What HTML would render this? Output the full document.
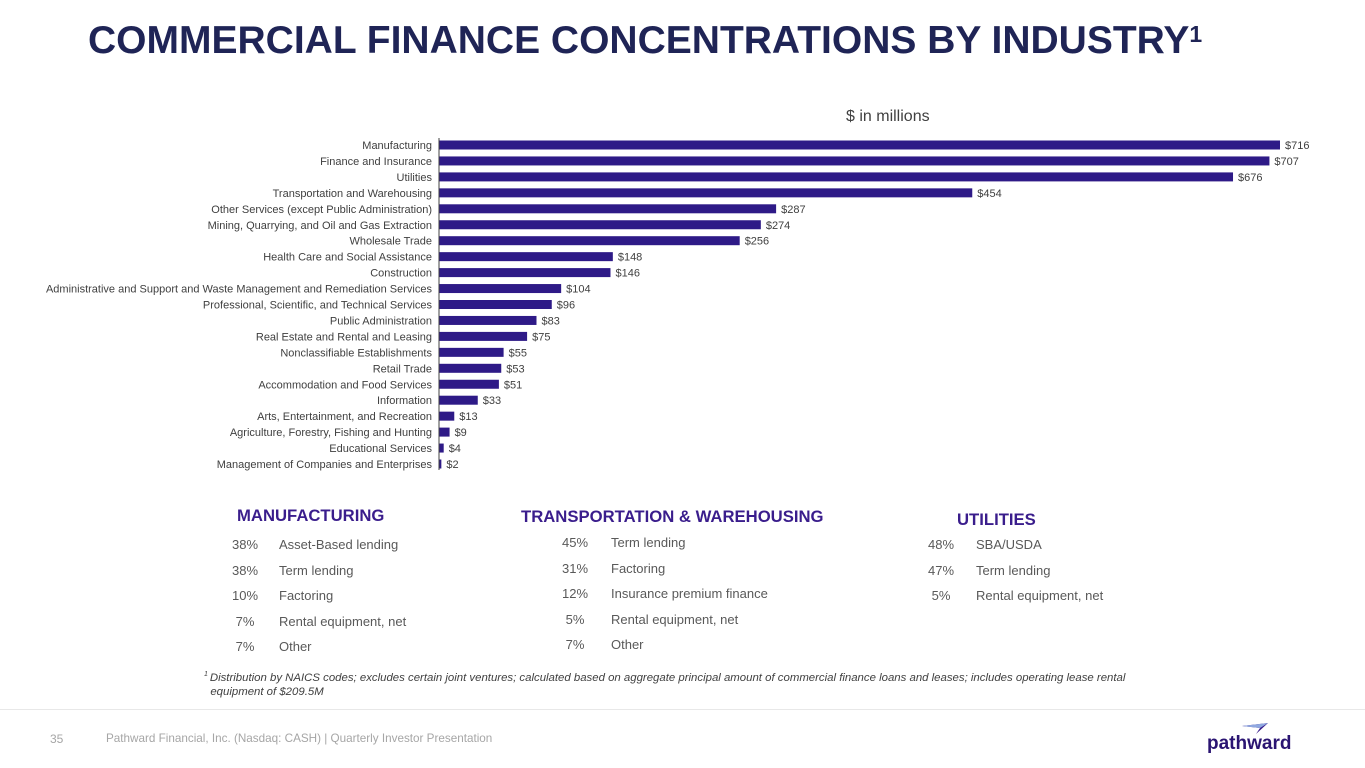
<!DOCTYPE html>
<html><head><meta charset="utf-8"><style>
*{margin:0;padding:0;box-sizing:border-box}
body{width:1365px;height:768px;background:#fff;font-family:"Liberation Sans",Arial,sans-serif;position:relative;overflow:hidden;color:#595959}
.abs{position:absolute}
h1{position:absolute;left:88px;top:19px;font-size:39px;font-weight:bold;color:#1f2456;letter-spacing:0px;white-space:nowrap}
h1 sup{font-size:23px;vertical-align:top;position:relative;top:2px}
.sub{left:846px;top:108px;font-size:16px;color:#404040}
.hd{font-size:16.7px;font-weight:bold;color:#3a1d8c;white-space:nowrap}
.row{font-size:13px;color:#595959;white-space:nowrap}
.pct{text-align:center;width:40px}
</style></head><body>
<h1>COMMERCIAL FINANCE CONCENTRATIONS BY INDUSTRY<sup>1</sup></h1>
<div class="abs sub">$ in millions</div>
<svg class="abs" style="left:0;top:0" width="1365" height="500" id="chart"></svg>

<div class="abs hd" style="left:237px;top:506px">MANUFACTURING</div>
<div class="abs hd" style="left:521px;top:507px">TRANSPORTATION &amp; WAREHOUSING</div>
<div class="abs hd" style="left:957px;top:510px">UTILITIES</div>
<div id="tables"></div>

<div class="abs" style="left:204px;top:668px;font-size:11.4px;font-style:italic;color:#404040;line-height:14px;width:960px"><sup style="font-size:7px">1 </sup>Distribution by NAICS codes; excludes certain joint ventures; calculated based on aggregate principal amount of commercial finance loans and leases; includes operating lease rental<br>&nbsp;&nbsp;equipment of $209.5M</div>
<div class="abs" style="left:0;top:709px;width:1365px;height:1px;background:#e8e8e8"></div>
<div class="abs" style="left:50px;top:732px;font-size:12px;color:#a6a6a6">35</div>
<div class="abs" style="left:106px;top:732px;font-size:11.7px;color:#a6a6a6">Pathward Financial, Inc. (Nasdaq: CASH) | Quarterly Investor Presentation</div>
<svg class="abs" style="left:1240px;top:723px" width="30" height="12"><polygon points="2,3 28,0 16,11 20,5" fill="#3a1d8c"/><polygon points="2,3 28,0 20,5" fill="#8fa8e0"/></svg>
<div class="abs" style="left:1207px;top:733px;font-size:19px;font-weight:bold;color:#2a1472;letter-spacing:0">pathward</div>

<script>
const categories=["Manufacturing","Finance and Insurance","Utilities","Transportation and Warehousing","Other Services (except Public Administration)","Mining, Quarrying, and Oil and Gas Extraction","Wholesale Trade","Health Care and Social Assistance","Construction","Administrative and Support and Waste Management and Remediation Services","Professional, Scientific, and Technical Services","Public Administration","Real Estate and Rental and Leasing","Nonclassifiable Establishments","Retail Trade","Accommodation and Food Services","Information","Arts, Entertainment, and Recreation","Agriculture, Forestry, Fishing and Hunting","Educational Services","Management of Companies and Enterprises"];
const values=[716,707,676,454,287,274,256,148,146,104,96,83,75,55,53,51,33,13,9,4,2];
const x0=439, pxPer=(1280-439)/716, yTop=145, step=(464-145)/20, barH=9;
const xs=v=>x0+v*pxPer, ys=i=>yTop+i*step;
const svg=document.getElementById('chart'), NS='http://www.w3.org/2000/svg';
function mk(t,a){const e=document.createElementNS(NS,t);for(const k in a)e.setAttribute(k,a[k]);svg.appendChild(e);return e;}
categories.forEach((c,i)=>{
  const y=ys(i);
  const r=mk('rect',{x:x0,y:y-barH/2,width:Math.max(1,xs(values[i])-x0),height:barH,fill:'#2e1a87'});
  
  
  const l=mk('text',{x:432,y:y+4,'text-anchor':'end','font-size':'11','fill':'#404040','font-family':'Liberation Sans, sans-serif'});
  l.textContent=c;
  
  
  const v=mk('text',{x:xs(values[i])+5,y:y+4,'font-size':'11','fill':'#404040','font-family':'Liberation Sans, sans-serif'});
  v.textContent='$'+values[i];
  
  
});
const ax=mk('line',{x1:x0,y1:138,x2:x0,y2:470,stroke:'#404040','stroke-width':1});



const mfgPct=["38%","38%","10%","7%","7%"], mfgLbl=["Asset-Based lending","Term lending","Factoring","Rental equipment, net","Other"];
const trnPct=["45%","31%","12%","5%","7%"], trnLbl=["Term lending","Factoring","Insurance premium finance","Rental equipment, net","Other"];
const utlPct=["48%","47%","5%"], utlLbl=["SBA/USDA","Term lending","Rental equipment, net"];
const T=document.getElementById('tables');
function table(p,l,px,lx,y0,st,name){
  p.forEach((v,i)=>{
    const a=document.createElement('div');a.className='abs row pct';a.style.left=px+'px';a.style.top=(y0+i*st)+'px';a.textContent=v;
    
    
    T.appendChild(a);
    const b=document.createElement('div');b.className='abs row';b.style.left=lx+'px';b.style.top=(y0+i*st)+'px';b.textContent=l[i];
    
    
    T.appendChild(b);
  });
}
table(mfgPct,mfgLbl,225,279,537,25.5,'manufacturing');
table(trnPct,trnLbl,555,611,535,25.5,'transportation');
table(utlPct,utlLbl,921,976,537,25.5,'utilities');
</script>
</body></html>
